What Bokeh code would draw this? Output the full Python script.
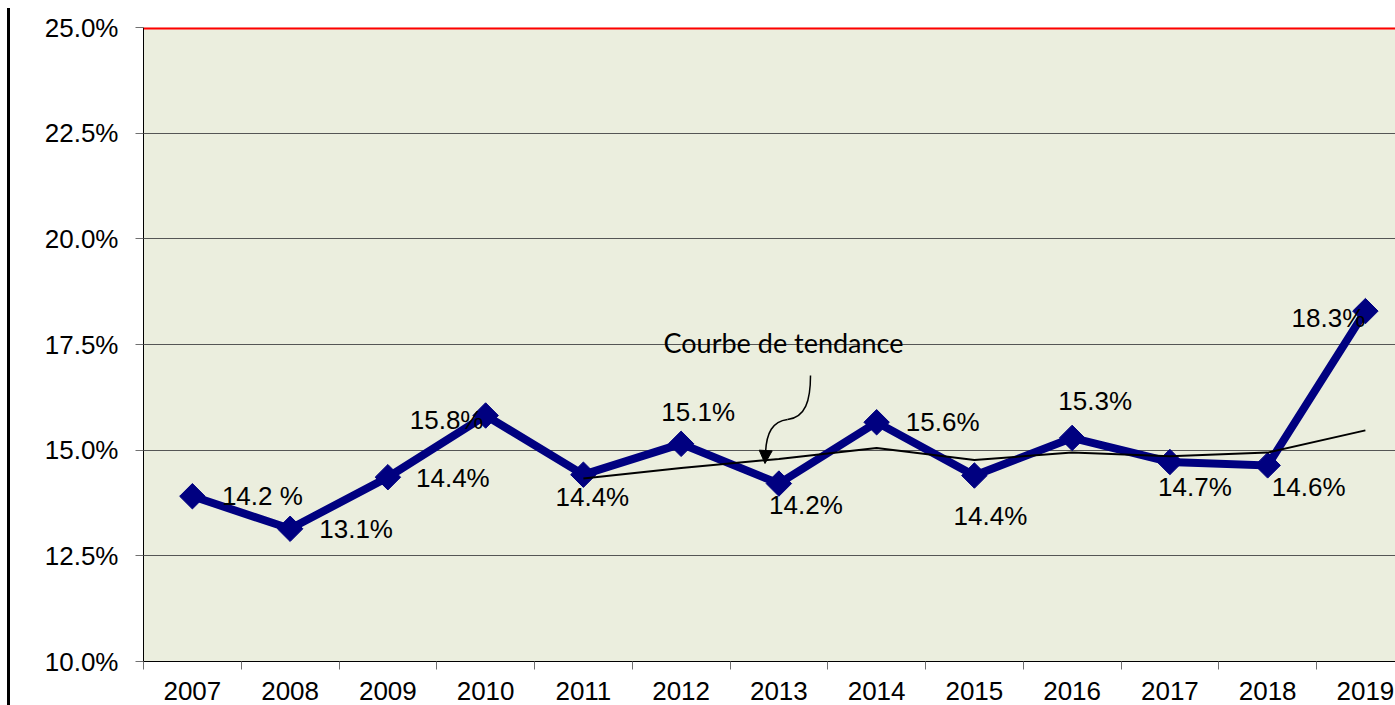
import numpy as np
import pandas as pd
from bokeh.plotting import figure
from bokeh.models import FixedTicker, PrintfTickFormatter, Span, Label, Arrow, NormalHead, ColumnDataSource
from bokeh.core.properties import value
from bokeh.embed import file_html
from bokeh.resources import INLINE

# ---- data ----
years = [2007, 2008, 2009, 2010, 2011, 2012, 2013, 2014, 2015, 2016, 2017, 2018, 2019]
rates = [13.91, 13.14, 14.36, 15.82, 14.42, 15.15, 14.21, 15.66, 14.40, 15.29, 14.72, 14.64, 18.29]
point_labels = ["14.2 %", "13.1%", "14.4%", "15.8%", "14.4%", "15.1%", "14.2%",
                "15.6%", "14.4%", "15.3%", "14.7%", "14.6%", "18.3%"]
y_ticks = [10.0, 12.5, 15.0, 17.5, 20.0, 22.5, 25.0]
trend_window = 5  # moving-average trend line ("Courbe de tendance")

# ---- label placement (screen pixels, + = right / down) ----
label_dx = [70, 66, 65, -39, 9, 17, 27, 66, 16, 23, 25, 41, -37]
label_dy = [0, 0, 1, 4, 22, -32, 21, 0, 40, -37, 25, 22, 7]

trend = pd.Series(rates).rolling(trend_window).mean()
trend_years = years[trend_window - 1:]
trend_vals = list(trend.iloc[trend_window - 1:])

boundaries = [y - 0.5 for y in years]

FONT = "Liberation Sans"
p = figure(frame_width=1252, frame_height=634,
           x_range=(2006.5, 2019.308), y_range=(10, 25),
           output_backend="svg", toolbar_location=None, title=None,
           min_border_left=133, min_border_right=0, min_border_top=19, min_border_bottom=60,
           background_fill_color="#EBEEDE", border_fill_color="white",
           outline_line_color=None)

# x axis
p.xaxis.ticker = FixedTicker(ticks=years, minor_ticks=boundaries)
p.xaxis.major_tick_out = 0
p.xaxis.major_tick_in = 0
p.xaxis.minor_tick_out = 8
p.xaxis.minor_tick_in = 0
p.xaxis.minor_tick_line_color = "#707070"
p.xaxis.axis_line_color = "black"
p.xaxis.major_label_text_font = FONT
p.xaxis.major_label_text_font_size = "26px"
p.xaxis.major_label_text_color = "black"
p.xaxis.major_label_standoff = 12
p.xaxis.major_label_overrides = {y: str(y) for y in years}

# y axis
p.yaxis.ticker = FixedTicker(ticks=y_ticks, minor_ticks=[])
p.yaxis.formatter = PrintfTickFormatter(format="%.1f%%")
p.yaxis.major_tick_out = 8
p.yaxis.major_tick_in = 0
p.yaxis.major_tick_line_color = "#707070"
p.yaxis.minor_tick_line_color = None
p.yaxis.axis_line_color = "black"
p.yaxis.major_label_text_font = FONT
p.yaxis.major_label_text_font_size = "26px"
p.yaxis.major_label_text_color = "black"
p.yaxis.major_label_standoff = 17

# grid
p.xgrid.visible = False
p.ygrid.ticker = FixedTicker(ticks=y_ticks, minor_ticks=[])
p.ygrid.grid_line_color = "#555555"
p.ygrid.grid_line_width = 1

p.add_layout(Span(location=25, dimension="width", line_color="red", line_width=4))

# main series
p.line(years, rates, line_color="#000080", line_width=8, line_join="miter")
p.scatter(years, rates, marker="square", size=18, angle=np.pi / 4,
          fill_color="#000080", line_color="#000080")

# trend line (5-period moving average)
p.line(trend_years, trend_vals, line_color="black", line_width=2)

# data labels
src = ColumnDataSource(dict(x=years, y=rates, t=point_labels, dx=label_dx, dy=label_dy))
p.text(x="x", y="y", text="t", x_offset="dx", y_offset="dy", source=src,
       text_align="center", text_baseline="middle",
       text_font=value(FONT), text_font_size="26px", text_color="black")

# annotation "Courbe de tendance" with curved arrow
def ax(px):
    return 2006.5 + (px - 143) / 97.75

def ay(py):
    return 10 + (661 - py) / 42.267

p.add_layout(Label(x=ax(783), y=ay(342), text="Courbe de tendance",
                   text_align="center", text_baseline="middle",
                   text_font="Lato", text_font_size="27px", text_color="black"))

p.bezier(x0=[ax(810), ax(787)], y0=[ay(375), ay(419)],
         x1=[ax(787), ax(765)], y1=[ay(419), ay(452)],
         cx0=[ax(810), ax(772)], cy0=[ay(400), ay(421)],
         cx1=[ax(805), ax(766)], cy1=[ay(417), ay(432)],
         line_color="black", line_width=1.5)
p.add_layout(Arrow(end=NormalHead(size=13, fill_color="black", line_color="black"),
                   x_start=ax(765.2), y_start=ay(450), x_end=ax(764.5), y_end=ay(463),
                   line_color="black", line_width=1.5))

p.styles = {"border-left": "3px solid black", "margin-left": "7px",
            "margin-top": "8px", "margin-bottom": "-40px"}

open("out.html", "w").write(file_html(p, INLINE))
